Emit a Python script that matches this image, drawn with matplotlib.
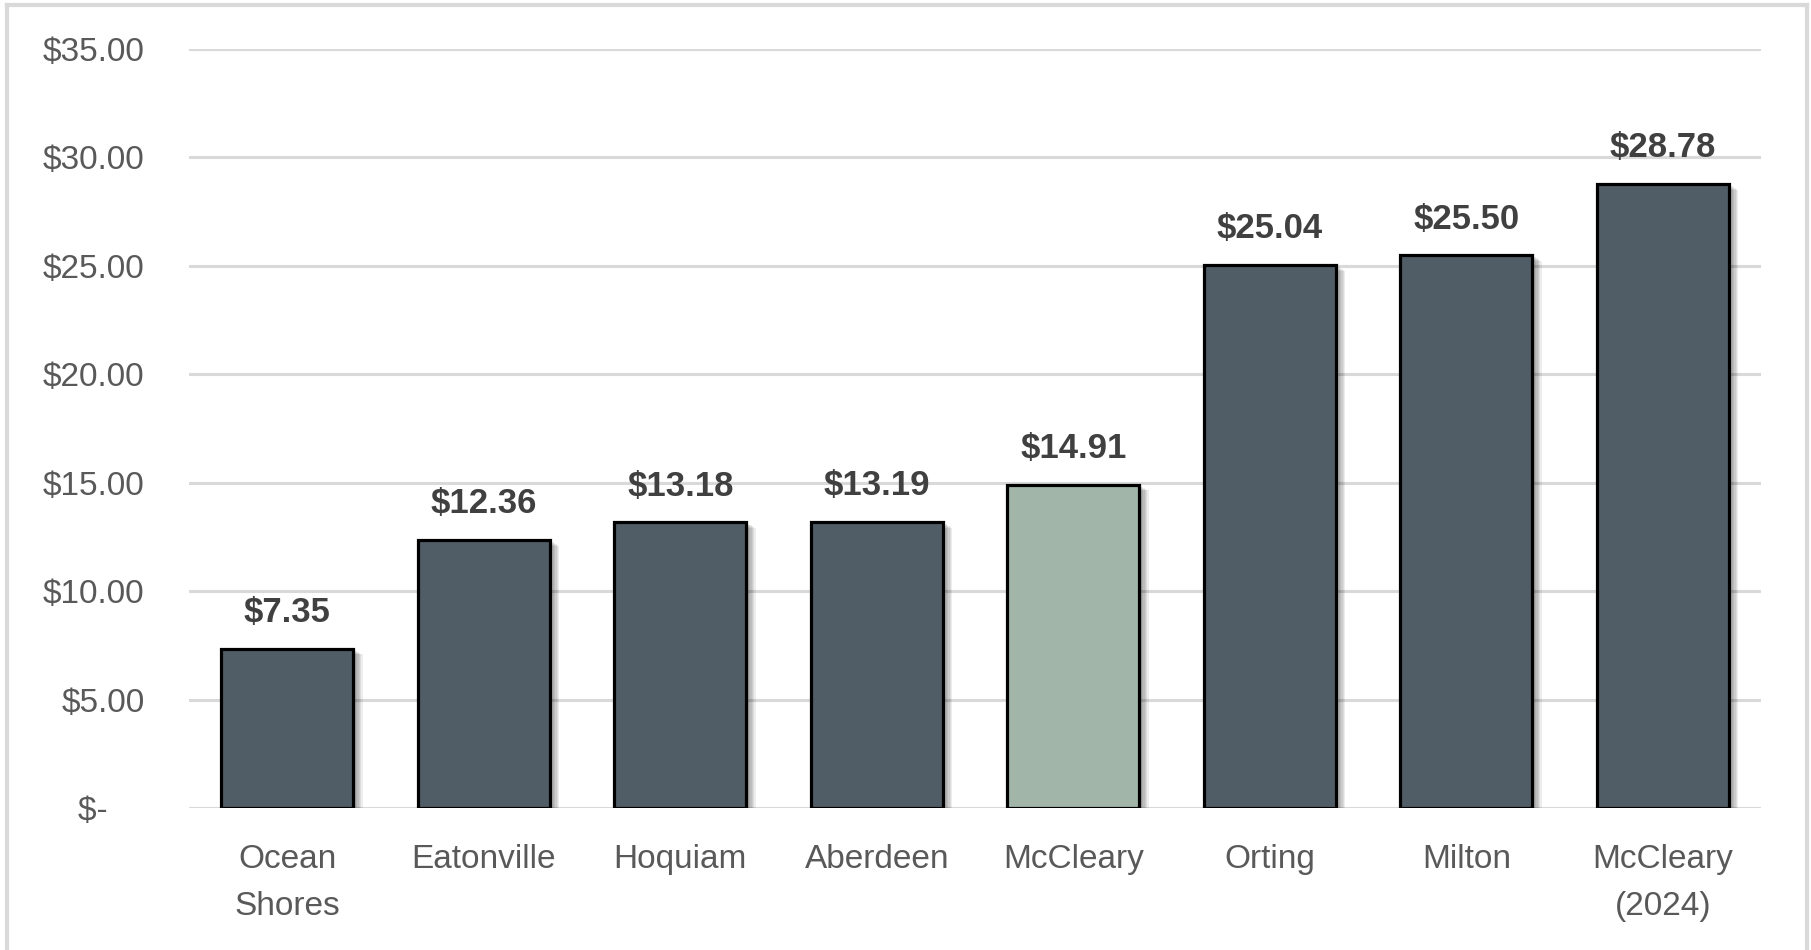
import matplotlib.pyplot as plt
import matplotlib.patheffects as pe
from matplotlib.lines import Line2D

# data
towns = ["Ocean\nShores", "Eatonville", "Hoquiam", "Aberdeen", "McCleary",
         "Orting", "Milton", "McCleary\n(2024)"]
rates = [7.35, 12.36, 13.18, 13.19, 14.91, 25.04, 25.50, 28.78]
highlight = "McCleary"
y_ticks = [0, 5, 10, 15, 20, 25, 30, 35]

dark = "#505D66"
green = "#A1B6A8"
grey_text = "#595959"
grid_grey = "#D9D9D9"

plt.rcParams["font.family"] = ["Liberation Sans", "DejaVu Sans"]

fig = plt.figure(figsize=(18.11, 9.5), dpi=100)
ax = fig.add_axes([0.1044, 0.1495, 0.868, 0.799])

colors = [green if t == highlight else dark for t in towns]
x = list(range(len(towns)))
bars = ax.bar(x, rates, width=0.67, color=colors, edgecolor="black",
              linewidth=2.3, zorder=3)
# soft drop shadow, built from a few faint offset copies
shadow = [pe.SimplePatchShadow(offset=(d, -d * 0.6), shadow_rgbFace="black", alpha=0.07)
          for d in (2, 3, 4, 5, 6, 7)]
for b in bars:
    b.set_path_effects(shadow + [pe.Normal()])

for xi, v in zip(x, rates):
    ax.annotate(f"${v:.2f}", (xi, v), xytext=(0, 14), textcoords="offset points",
                ha="center", va="bottom", fontsize=25, fontweight="bold",
                color="#404040")

ax.set_xlim(-0.5, len(towns) - 0.5)
ax.set_ylim(0, 35)
ax.set_yticks(y_ticks)
ax.set_yticklabels(["$-    "] + [f"${v:.2f}" for v in y_ticks[1:]])
ax.set_xticks(x)
ax.set_xticklabels(towns, linespacing=1.65)
ax.tick_params(axis="y", length=0, pad=32, labelsize=24, labelcolor=grey_text)
ax.tick_params(axis="x", length=0, pad=26, labelsize=24, labelcolor=grey_text)
ax.grid(axis="y", color=grid_grey, linewidth=2.2, zorder=0)
for s in ax.spines.values():
    s.set_visible(False)

# light frame round the chart (left, top, right only)
fw = 3
fig.add_artist(Line2D([7 / 1811, 7 / 1811], [0, 1 - 5 / 950], color=grid_grey, lw=fw))
fig.add_artist(Line2D([7 / 1811, 1807 / 1811], [1 - 5 / 950, 1 - 5 / 950], color=grid_grey, lw=fw))
fig.add_artist(Line2D([1807 / 1811, 1807 / 1811], [0, 1 - 5 / 950], color=grid_grey, lw=fw))

fig.savefig("out.png", dpi=100, facecolor="white")
